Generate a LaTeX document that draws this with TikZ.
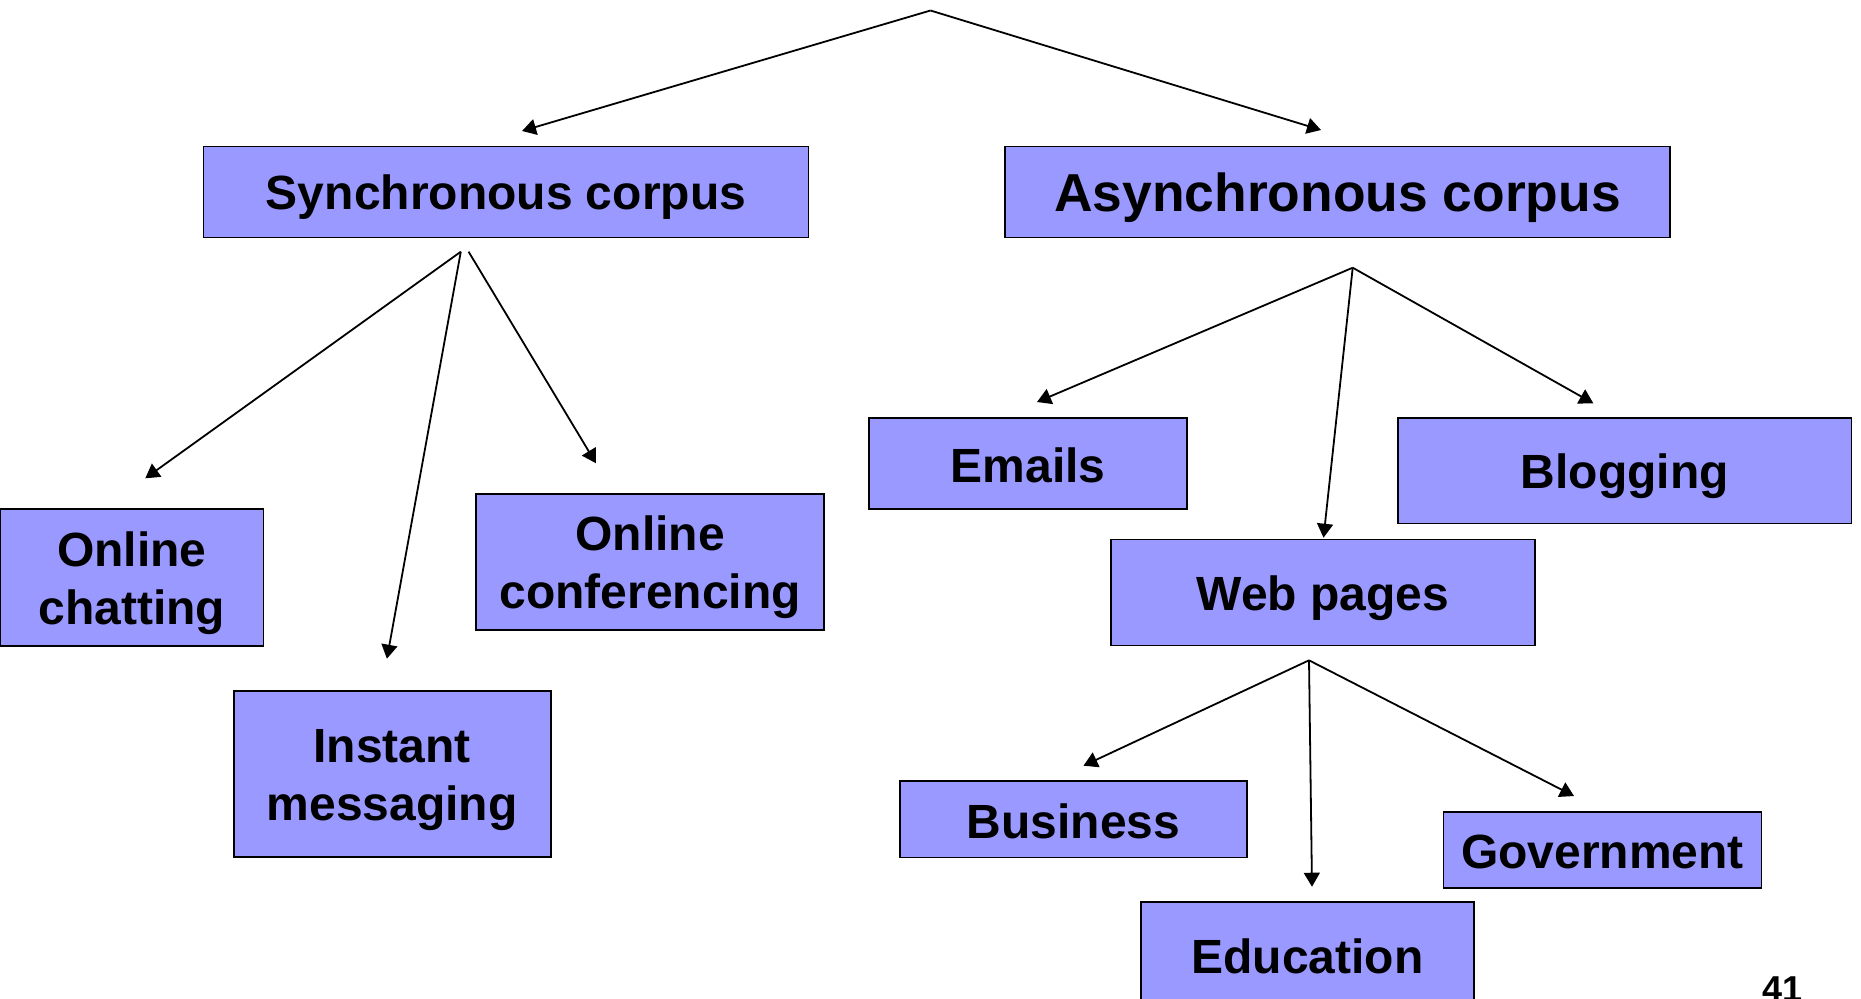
\documentclass[tikz,border=0pt]{standalone}
\usepackage{fontspec}
\setmainfont{Liberation Sans}
\usetikzlibrary{arrows.meta}
\definecolor{boxfill}{HTML}{9999FF}
\newcommand\lstrut{\rule[-0.162em]{0pt}{1.117em}}
\begin{document}
\begin{tikzpicture}[x=0.5pt,y=-0.5pt,
  box/.style={draw=black, line width=0.85pt, fill=boxfill, inner sep=0pt, outer sep=0pt,
    align=center, font=\fontsize{24}{28.8}\selectfont\bfseries},
  bigbox/.style={box, font=\fontsize{26.7}{32}\selectfont\bfseries},
  arr/.style={line width=0.9pt, -{Triangle[length=7pt,width=8pt]}}]
\useasboundingbox (0,0) rectangle (1861,998);

% boxes
\node[box, minimum width=302.5pt, minimum height=45.5pt] (sync) at (506,192) {\lstrut Synchronous corpus};
\node[bigbox, minimum width=332.5pt, minimum height=45.5pt] (async) at (1337.5,192) {\lstrut Asynchronous corpus};
\node[box, minimum width=131.75pt, minimum height=68.35pt] (chat) at (131.75,577.35) {\lstrut Online\\\lstrut chatting};
\node[box, minimum width=158.5pt, minimum height=83pt] (im) at (392.25,773.9) {\lstrut Instant\\\lstrut messaging};
\node[box, minimum width=173.85pt, minimum height=68.25pt] (conf) at (650,561.9) {\lstrut Online\\\lstrut conferencing};
\node[box, minimum width=159pt, minimum height=45.5pt] (emails) at (1028,463.5) {\lstrut Emails};
\node[box, minimum width=226.8pt, minimum height=52.8pt] (blog) at (1624.8,470.6) {\lstrut Blogging};
\node[box, minimum width=212pt, minimum height=53pt] (web) at (1323,592.5) {\lstrut Web pages};
\node[box, minimum width=173.75pt, minimum height=38.25pt] (bus) at (1073.5,819.3) {\lstrut Business};
\node[box, minimum width=159pt, minimum height=38pt] (gov) at (1602.5,849.7) {\lstrut Government};
\node[box, minimum width=166.5pt, minimum height=52pt] (edu) at (1307.5,954.3) {\lstrut Education};

\node[font=\fontsize{18}{21.6}\selectfont\bfseries, anchor=base, inner sep=0pt] (pnum) at (1782,1001) {41};

% connector points
\coordinate (top) at (930.5,10.5);
\coordinate (syncin) at (522,131);
\coordinate (asyncin) at (1321,130);
\coordinate (s1) at (460.8,251.7);
\coordinate (s2) at (468.6,251.7);
\coordinate (chatin) at (145.3,478.3);
\coordinate (imin) at (386.9,658.7);
\coordinate (confin) at (596,463.3);
\coordinate (a1) at (1352.7,267.7);
\coordinate (emailsin) at (1037,402);
\coordinate (webin) at (1323.5,537.7);
\coordinate (blogin) at (1593.3,403.3);
\coordinate (w1) at (1309,660.3);
\coordinate (busin) at (1083.5,765.7);
\coordinate (eduin) at (1312,886.7);
\coordinate (govin) at (1574,796);

% connectors
\draw[arr] (top) -- (syncin);
\draw[arr] (top) -- (asyncin);
\draw[arr] (s1) -- (chatin);
\draw[arr] (s1) -- (imin);
\draw[arr] (s2) -- (confin);
\draw[arr] (a1) -- (emailsin);
\draw[arr] (a1) -- (webin);
\draw[arr] (a1) -- (blogin);
\draw[arr] (w1) -- (busin);
\draw[arr] (w1) -- (eduin);
\draw[arr] (w1) -- (govin);
\end{tikzpicture}
\end{document}
